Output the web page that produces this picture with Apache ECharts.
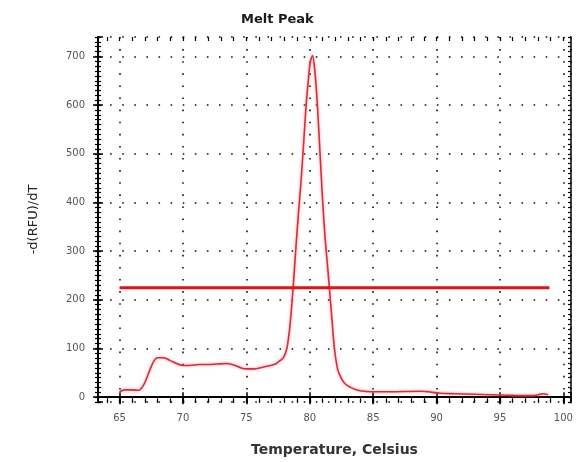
<!DOCTYPE html>
<html>
<head>
<meta charset="utf-8">
<script src="https://cdn.jsdelivr.net/npm/echarts@6/dist/echarts.min.js"></script>
<style>
  html, body { margin: 0; padding: 0; background: #fff; }
  #chart { width: 584px; height: 462px; }
</style>
</head>
<body>
<div id="chart"></div>
<script>
// Melt curve derivative: temperature (°C) and -d(RFU)/dT
const temperature = [
  65.0, 65.4, 66.0, 66.5, 66.9, 67.3, 67.7, 68.0, 68.5, 69.0,
  69.5, 70.0, 70.5, 71.3, 72.0, 72.7, 73.4, 74.0, 74.6, 75.0,
  75.6, 76.2, 76.9, 77.3, 77.6, 77.9, 78.2, 78.45, 78.69, 78.9,
  79.1, 79.3, 79.5, 79.7, 79.9, 80.05, 80.22, 80.4, 80.6, 80.8,
  81.0, 81.2, 81.4, 81.54, 81.75, 81.94, 82.2, 82.5, 82.8, 83.3,
  83.96, 85.0, 86.3, 88.7, 90.3, 91.5, 92.9, 94.2, 95.5, 97.0,
  97.6, 98.4, 98.8
];
const meltPeak = [
  11, 15, 15, 14, 25, 50, 74, 81, 81, 75,
  69, 65, 65, 67, 67, 68, 69, 66, 60, 58,
  58, 61, 65, 68, 74, 80, 101, 150, 226, 305,
  375, 440, 515, 595, 655, 690, 702, 670, 601, 505,
  410, 330, 270, 226, 160, 101, 57, 38, 27, 19,
  13, 11, 11, 12, 8, 7, 6, 5, 4, 3,
  3, 7, 5
];
// Peak call threshold
const thresholdTemps = [65, 98.9];
const thresholdValue = 225;

const xRange = [63.3, 100.6];
const yRange = [-10, 740];
const minorXRange = [64, 100];

const pairs = temperature.map((t, i) => [t, meltPeak[i]]);
const thresholdLine = thresholdTemps.map(t => [t, thresholdValue]);

const labelStyle = { fontFamily: 'DejaVu Sans', fontSize: 10, color: '#555' };
const dotted = { show: true, lineStyle: { color: '#111', width: 1.6, type: [1.6, 10.5] } };
const hidden = { show: false };

// Grid geometry: main plot frame, plus a second grid aligned so that its
// axis runs from 64 to 100 (for one-degree minor ticks).
const G = { left: 98, right: 13, top: 37, bottom: 59 };
const pxPerDeg = (584 - G.left - G.right) / (xRange[1] - xRange[0]);
const G2 = {
  left: G.left + (minorXRange[0] - xRange[0]) * pxPerDeg,
  right: G.right + (xRange[1] - minorXRange[1]) * pxPerDeg,
  top: G.top, bottom: G.bottom
};

function tickAxis(extra) {
  return Object.assign({
    type: 'value',
    axisLabel: hidden,
    splitLine: hidden,
    axisLine: hidden
  }, extra);
}

const chart = echarts.init(document.getElementById('chart'), null, { renderer: 'canvas' });
chart.setOption({
  animation: false,
  backgroundColor: '#fff',
  title: {
    text: 'Melt Peak',
    left: 236, top: 8,
    textStyle: { fontFamily: 'DejaVu Sans', fontSize: 13, fontWeight: 'bold', color: '#1a1a1a' }
  },
  grid: [
    Object.assign({ containLabel: false }, G),
    Object.assign({ containLabel: false }, G2)
  ],
  xAxis: [
    {
      type: 'value', gridIndex: 0, position: 'bottom',
      min: xRange[0], max: xRange[1], splitNumber: 7,
      name: 'Temperature, Celsius', nameLocation: 'middle', nameGap: 41,
      nameTextStyle: { fontFamily: 'DejaVu Sans', fontSize: 14, fontWeight: 'bold', color: '#333' },
      axisLine: { show: true, lineStyle: { color: '#000', width: 2 } },
      axisTick: { show: true, inside: false, length: 7, lineStyle: { color: '#000', width: 1.5 } },
      axisLabel: Object.assign({ margin: 11, showMinLabel: false, showMaxLabel: false }, labelStyle),
      splitLine: dotted
    },
    tickAxis({ gridIndex: 0, position: 'bottom', min: xRange[0], max: xRange[1], splitNumber: 7,
      axisTick: { show: true, inside: true, length: 5, lineStyle: { color: '#000', width: 1.5 } } }),
    tickAxis({ gridIndex: 1, position: 'bottom', min: minorXRange[0], max: minorXRange[1], interval: 1,
      axisTick: { show: true, inside: false, length: 4, lineStyle: { color: '#000', width: 1.2 } } }),
    tickAxis({ gridIndex: 1, position: 'bottom', min: minorXRange[0], max: minorXRange[1], interval: 1,
      axisTick: { show: true, inside: true, length: 3, lineStyle: { color: '#000', width: 1.2 } } }),
    tickAxis({ gridIndex: 1, position: 'top', min: minorXRange[0], max: minorXRange[1], interval: 1,
      axisTick: { show: true, inside: true, length: 4, lineStyle: { color: '#000', width: 1.2 } } }),
    tickAxis({ gridIndex: 0, position: 'top', min: xRange[0], max: xRange[1], splitNumber: 7,
      axisLine: { show: true, lineStyle: { color: '#000', width: 1.5 } },
      axisTick: { show: true, inside: true, length: 6, lineStyle: { color: '#000', width: 1.5 } } })
  ],
  yAxis: [
    {
      type: 'value', gridIndex: 0, position: 'left',
      min: yRange[0], max: yRange[1], splitNumber: 7,
      name: '-d(RFU)/dT', nameLocation: 'middle', nameGap: 58, nameRotate: 90,
      nameTextStyle: { fontFamily: 'DejaVu Sans', fontSize: 13, color: '#222' },
      axisLine: { show: true, lineStyle: { color: '#000', width: 2 } },
      axisTick: { show: true, inside: false, length: 5, lineStyle: { color: '#000', width: 1.5 } },
      axisLabel: Object.assign({ margin: 13, showMinLabel: false, showMaxLabel: false }, labelStyle),
      splitLine: dotted
    },
    tickAxis({ gridIndex: 0, position: 'left', min: yRange[0], max: yRange[1], splitNumber: 7,
      axisTick: { show: true, inside: true, length: 5, lineStyle: { color: '#000', width: 1.5 } } }),
    tickAxis({ gridIndex: 0, position: 'left', min: yRange[0], max: yRange[1], interval: 10,
      axisTick: { show: true, inside: false, length: 3, lineStyle: { color: '#000', width: 1.2 } } }),
    tickAxis({ gridIndex: 0, position: 'left', min: yRange[0], max: yRange[1], interval: 10,
      axisTick: { show: true, inside: true, length: 3, lineStyle: { color: '#000', width: 1.2 } } }),
    tickAxis({ gridIndex: 0, position: 'right', min: yRange[0], max: yRange[1], interval: 10,
      axisLine: { show: true, lineStyle: { color: '#000', width: 1.5 } },
      axisTick: { show: true, inside: true, length: 3, lineStyle: { color: '#000', width: 1.2 } } }),
    tickAxis({ gridIndex: 1, show: false, min: yRange[0], max: yRange[1] })
  ],
  series: [
    {
      type: 'line', xAxisIndex: 0, yAxisIndex: 0,
      data: pairs, showSymbol: false, smooth: 0.3,
      lineStyle: { color: '#d62f3a', width: 1.6, shadowColor: 'rgba(240,110,120,0.7)', shadowBlur: 3 },
      z: 3
    },
    {
      type: 'line', xAxisIndex: 0, yAxisIndex: 0,
      data: thresholdLine, showSymbol: false,
      lineStyle: { color: '#e5100f', width: 3 },
      z: 4
    }
  ]
});
</script>
</body>
</html>
